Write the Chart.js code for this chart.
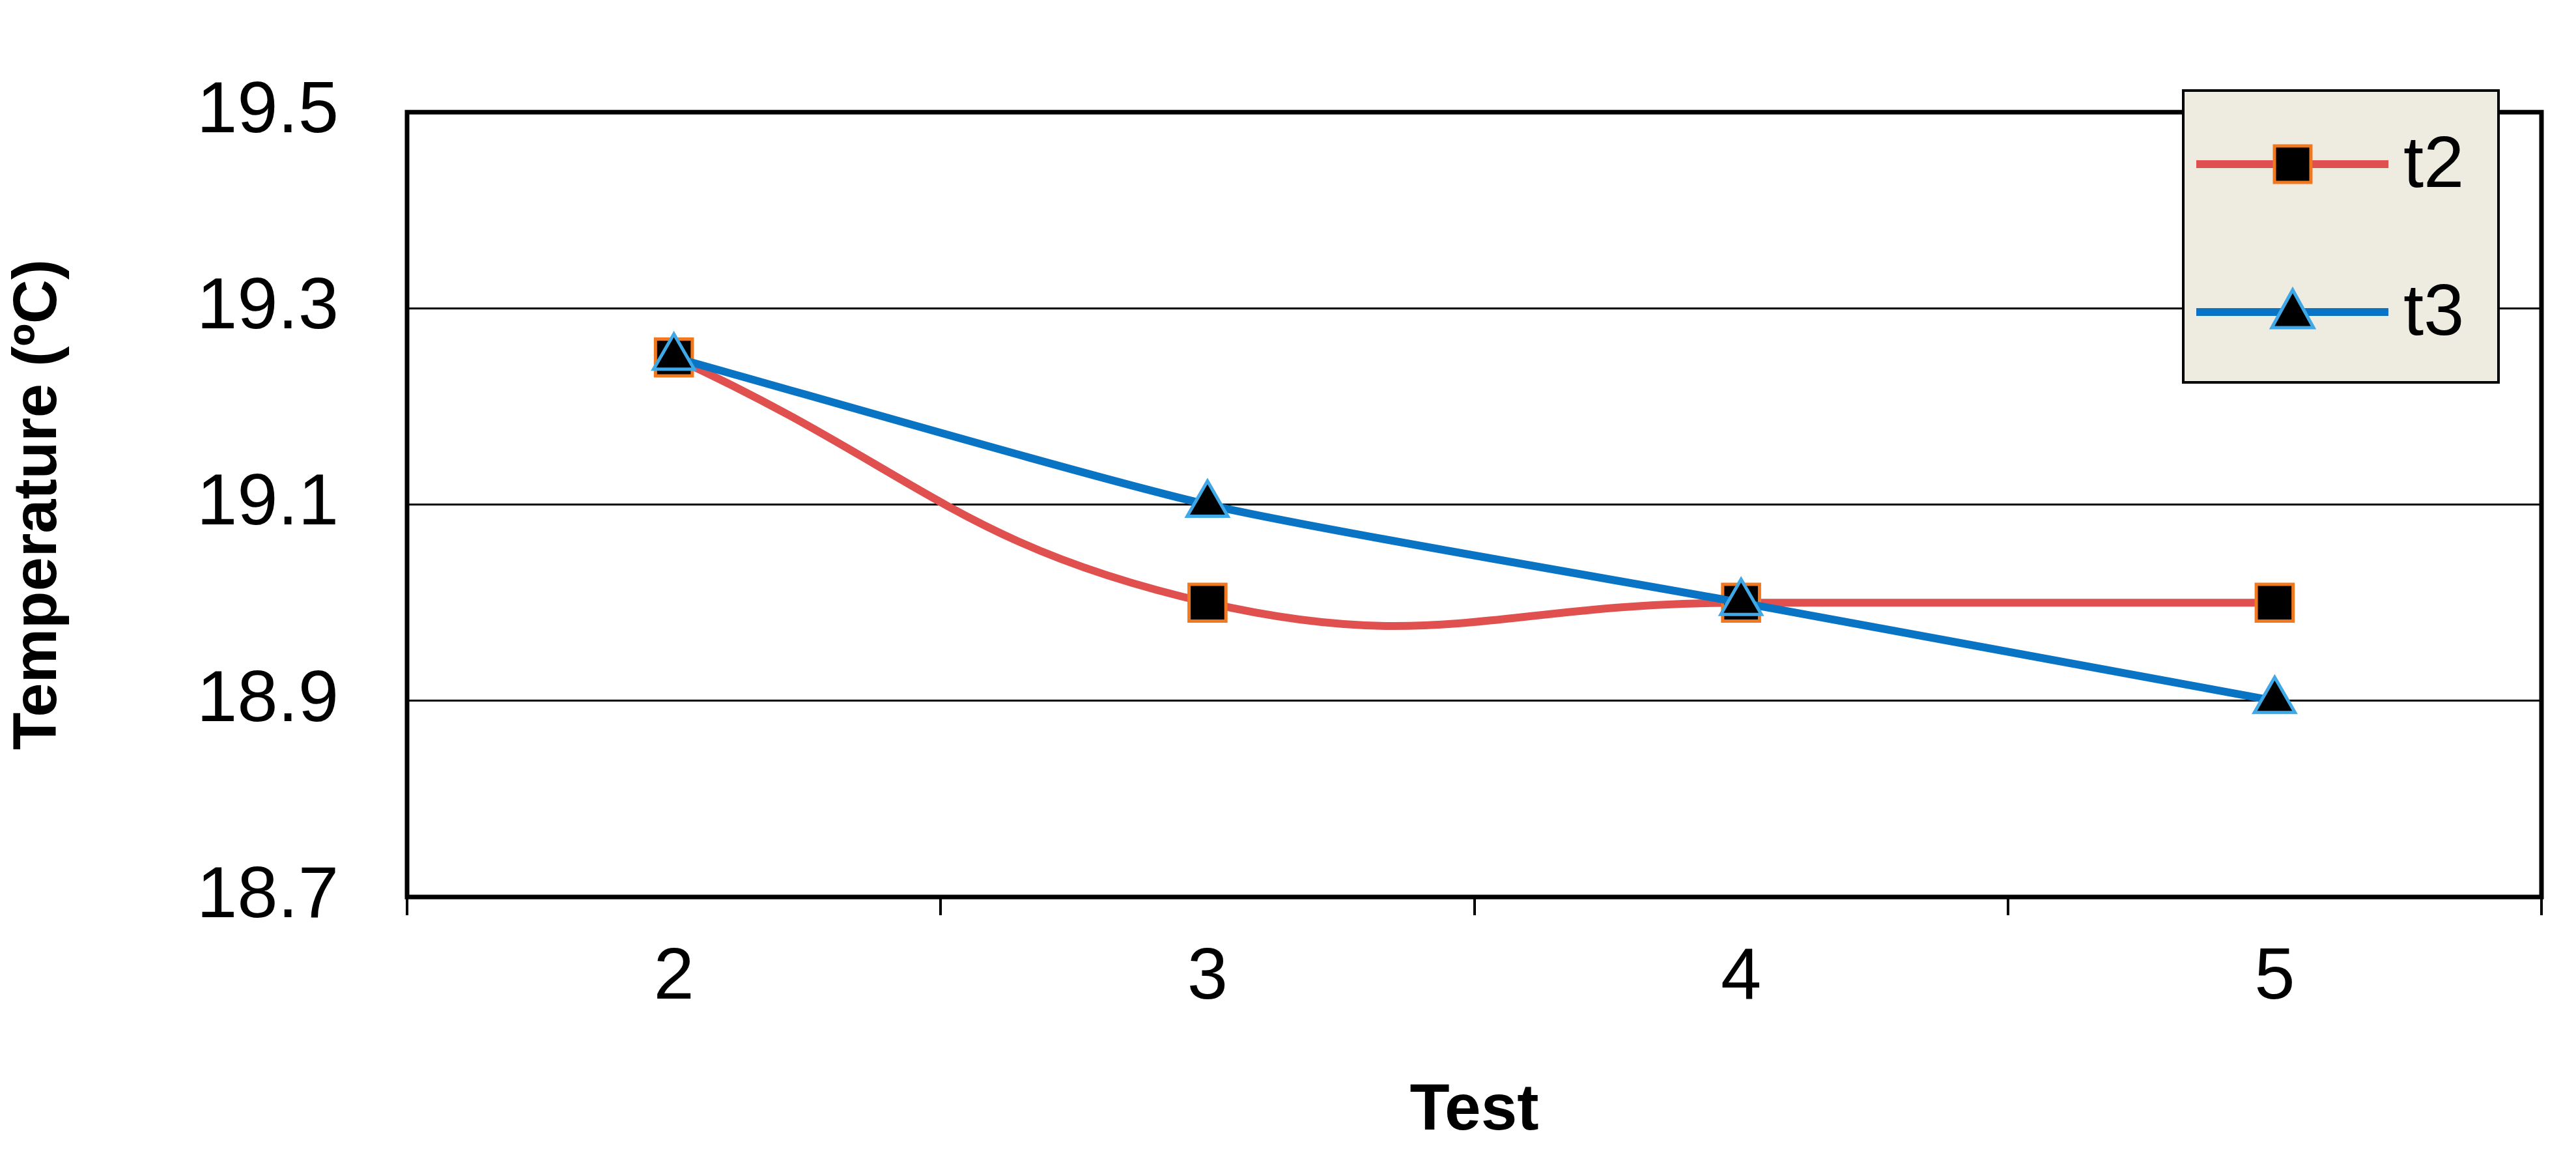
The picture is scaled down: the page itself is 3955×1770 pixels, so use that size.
<!DOCTYPE html>
<html>
<head>
<meta charset="utf-8">
<script src="https://cdn.jsdelivr.net/npm/chart.js@4.4.0/dist/chart.umd.min.js"></script>
<style>
  html, body { margin: 0; padding: 0; background: #fff; }
  #wrap { width: 3955px; height: 1770px; position: relative; }
</style>
</head>
<body>
<div id="wrap"><canvas id="tempChart"></canvas></div>
<script>
// Data
const tests = ['2', '3', '4', '5'];
const t2Values = [19.25, 19.0, 19.0, 19.0];
const t3Values = [19.25, 19.1, 19.0, 18.9];
const yTicks = [18.7, 18.9, 19.1, 19.3, 19.5];

const FONT = "'Liberation Sans', Arial, sans-serif";
const RED = '#e0504e';
const BLUE = '#0a74c4';

// frame around the plot + boxed legend in the top right corner
const framePlugin = {
    id: 'frame',
    afterDraw(chart) {
        const ctx = chart.ctx;
        const a = chart.chartArea;
        ctx.save();
        ctx.strokeStyle = '#000';
        ctx.lineWidth = 7;
        ctx.strokeRect(a.left, a.top, a.right - a.left, a.bottom - a.top);

        // legend box
        const bx = 3352, by = 139, bw = 484, bh = 448;
        ctx.fillStyle = '#eeece1';
        ctx.fillRect(bx, by, bw, bh);
        ctx.lineWidth = 4;
        ctx.strokeRect(bx, by, bw, bh);

        const rows = [
            { label: 't2', color: RED, y: 252, marker: 'rect' },
            { label: 't3', color: BLUE, y: 479, marker: 'tri' }
        ];
        rows.forEach(r => {
            ctx.strokeStyle = r.color;
            ctx.lineWidth = 12;
            ctx.beginPath();
            ctx.moveTo(3372, r.y);
            ctx.lineTo(3667, r.y);
            ctx.stroke();
            ctx.fillStyle = '#000';
            ctx.lineWidth = 5;
            if (r.marker === 'rect') {
                ctx.strokeStyle = '#f07820';
                ctx.fillRect(3492, r.y - 28, 56, 56);
                ctx.strokeRect(3492, r.y - 28, 56, 56);
            } else {
                ctx.strokeStyle = '#3fa9e8';
                ctx.beginPath();
                ctx.moveTo(3520, r.y - 34);
                ctx.lineTo(3552, r.y + 24);
                ctx.lineTo(3488, r.y + 24);
                ctx.closePath();
                ctx.fill();
                ctx.stroke();
            }
            ctx.fillStyle = '#000';
            ctx.font = '112px ' + FONT;
            ctx.textBaseline = 'middle';
            ctx.fillText(r.label, 3690, r.y + 4);
        });
        ctx.restore();
    }
};

new Chart(document.getElementById('tempChart'), {
    type: 'line',
    data: {
        labels: tests,
        datasets: [{
            label: 't2',
            data: t2Values,
            order: 1,
            borderColor: RED,
            borderWidth: 12,
            tension: 0.45,
            pointStyle: 'rect',
            pointRadius: 40,
            pointBackgroundColor: '#000',
            pointBorderColor: '#f07820',
            pointBorderWidth: 5
        }, {
            label: 't3',
            data: t3Values,
            order: 0,
            borderColor: BLUE,
            borderWidth: 12,
            tension: 0.2,
            pointStyle: 'triangle',
            pointRadius: 36,
            pointBackgroundColor: '#000',
            pointBorderColor: '#3fa9e8',
            pointBorderWidth: 5
        }]
    },
    options: {
        responsive: true,
        maintainAspectRatio: false,
        animation: false,
        layout: { padding: { top: 0, right: 53, left: 0, bottom: 0 } },
        plugins: {
            legend: { display: false },
            tooltip: { enabled: false }
        },
        scales: {
            x: {
                offset: true,
                grid: {
                    offset: true,
                    drawOnChartArea: false,
                    color: '#000',
                    lineWidth: 4,
                    tickLength: 28
                },
                border: { display: false },
                ticks: { color: '#000', font: { family: FONT, size: 112 }, padding: 30 },
                title: {
                    display: true,
                    text: 'Test',
                    color: '#000',
                    font: { family: FONT, size: 100, weight: 'bold' },
                    padding: { top: 20 }
                },
                afterFit(scale) { scale.height = 393; }
            },
            y: {
                min: 18.7,
                max: 19.5,
                afterBuildTicks(scale) { scale.ticks = yTicks.map(v => ({ value: v })); },
                grid: { color: '#000', lineWidth: 3, tickLength: 0 },
                border: { display: false },
                ticks: {
                    color: '#000',
                    font: { family: FONT, size: 112 },
                    padding: 105,
                    callback: v => v.toFixed(1)
                },
                title: {
                    display: true,
                    text: 'Temperature (ºC)',
                    color: '#000',
                    font: { family: FONT, size: 94, weight: 'bold' },
                    padding: { bottom: 0 }
                },
                afterFit(scale) { scale.width = 625; }
            }
        }
    },
    plugins: [framePlugin]
});
</script>
</body>
</html>
